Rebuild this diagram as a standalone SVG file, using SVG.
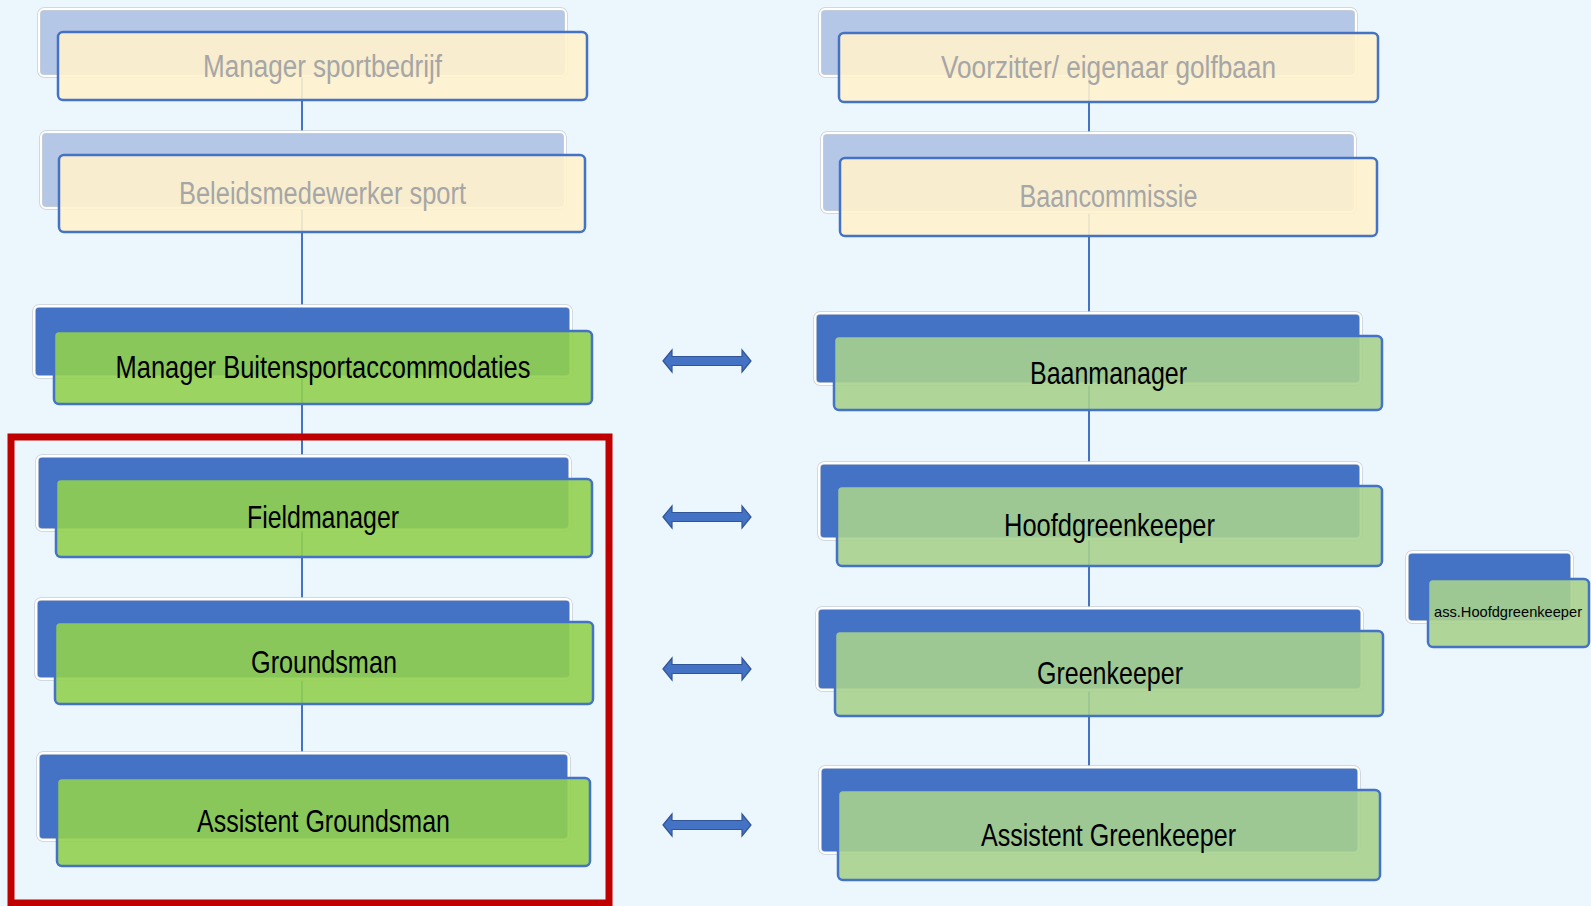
<svg xmlns="http://www.w3.org/2000/svg" width="1591" height="906" viewBox="0 0 1591 906">
<style>
.bgl{fill:#B4C7E7;stroke:#C9CED6;stroke-width:3.5}
.bgd{fill:#4472C4;stroke:#C9CED6;stroke-width:3.5}
.rim{fill:none;stroke:#FFFFFF;stroke-width:2}
.fy{fill:#FFF2CC;fill-opacity:0.9;stroke:#4472C4;stroke-width:2.5}
.fg{fill:#92D050;fill-opacity:0.9;stroke:#4472C4;stroke-width:2.5}
.fr{fill:#A9D18E;fill-opacity:0.9;stroke:#4472C4;stroke-width:2.5}
.tg{font-family:"Liberation Sans",Arial,sans-serif;font-size:31px;fill:#A6A6A6;text-anchor:middle}
.tb{font-family:"Liberation Sans",Arial,sans-serif;font-size:32px;fill:#000000;text-anchor:middle}
.ts{font-family:"Liberation Sans",Arial,sans-serif;font-size:15px;fill:#000000;text-anchor:middle}
.con{stroke:#4472C4;stroke-width:2;fill:none}
.arr{fill:#4472C4;stroke:#2F5597;stroke-width:1.2}
</style>
<defs>
<path id="dbl" d="M0,0 L9,-11 L9,-4.5 L79,-4.5 L79,-11 L88,0 L79,11 L79,4.5 L9,4.5 L9,11 Z"/>
</defs>
<rect x="0" y="0" width="1591" height="906" fill="#EBF6FD"/>
<g id="connectors">
<line class="con" x1="302" y1="70" x2="302" y2="132"/>
<line class="con" x1="302" y1="200" x2="302" y2="306"/>
<line class="con" x1="302" y1="372" x2="302" y2="456"/>
<line class="con" x1="302" y1="525" x2="302" y2="599"/>
<line class="con" x1="302" y1="675" x2="302" y2="753"/>
<line class="con" x1="1089" y1="70" x2="1089" y2="133"/>
<line class="con" x1="1089" y1="205" x2="1089" y2="313"/>
<line class="con" x1="1089" y1="380" x2="1089" y2="463"/>
<line class="con" x1="1089" y1="535" x2="1089" y2="608"/>
<line class="con" x1="1089" y1="685" x2="1089" y2="767"/>
<use href="#dbl" class="arr" x="663" y="361"/>
<use href="#dbl" class="arr" x="663" y="517"/>
<use href="#dbl" class="arr" x="663" y="669"/>
<use href="#dbl" class="arr" x="663" y="825"/>
</g>
<g id="n-manager-sportbedrijf">
<rect class="bgl" x="39" y="9" width="527" height="67" rx="5"/>
<rect class="rim" x="39" y="9" width="527" height="67" rx="5"/>
<rect class="fy" x="58" y="32" width="529" height="68" rx="5"/>
<text class="tg" x="322.5" y="77" textLength="239" lengthAdjust="spacingAndGlyphs">Manager sportbedrijf</text>
</g>
<g id="n-beleidsmedewerker">
<rect class="bgl" x="41" y="132" width="524" height="76" rx="5"/>
<rect class="rim" x="41" y="132" width="524" height="76" rx="5"/>
<rect class="fy" x="59" y="155" width="526" height="77" rx="5"/>
<text class="tg" x="322.5" y="204" textLength="287" lengthAdjust="spacingAndGlyphs">Beleidsmedewerker sport</text>
</g>
<g id="n-manager-buiten">
<rect class="bgd" x="34" y="306" width="537" height="71" rx="5"/>
<rect class="rim" x="34" y="306" width="537" height="71" rx="5"/>
<rect class="fg" x="54" y="331" width="538" height="73" rx="5"/>
<text class="tb" x="323" y="378" textLength="415" lengthAdjust="spacingAndGlyphs">Manager Buitensportaccommodaties</text>
</g>
<g id="n-fieldmanager">
<rect class="bgd" x="37" y="456" width="533" height="74" rx="5"/>
<rect class="rim" x="37" y="456" width="533" height="74" rx="5"/>
<rect class="fg" x="56" y="479" width="536" height="78" rx="5"/>
<text class="tb" x="323" y="528" textLength="152" lengthAdjust="spacingAndGlyphs">Fieldmanager</text>
</g>
<g id="n-groundsman">
<rect class="bgd" x="36" y="599" width="535" height="80" rx="5"/>
<rect class="rim" x="36" y="599" width="535" height="80" rx="5"/>
<rect class="fg" x="55" y="622" width="538" height="82" rx="5"/>
<text class="tb" x="324" y="673" textLength="146" lengthAdjust="spacingAndGlyphs">Groundsman</text>
</g>
<g id="n-assistent-groundsman">
<rect class="bgd" x="38" y="753" width="531" height="87" rx="5"/>
<rect class="rim" x="38" y="753" width="531" height="87" rx="5"/>
<rect class="fg" x="57" y="778" width="533" height="88" rx="5"/>
<text class="tb" x="323.5" y="832" textLength="253" lengthAdjust="spacingAndGlyphs">Assistent Groundsman</text>
</g>
<g id="n-voorzitter">
<rect class="bgl" x="820" y="9" width="536" height="67" rx="5"/>
<rect class="rim" x="820" y="9" width="536" height="67" rx="5"/>
<rect class="fy" x="839" y="33" width="539" height="69" rx="5"/>
<text class="tg" x="1108.5" y="78" textLength="335" lengthAdjust="spacingAndGlyphs">Voorzitter/ eigenaar golfbaan</text>
</g>
<g id="n-baancommissie">
<rect class="bgl" x="822" y="133" width="533" height="79" rx="5"/>
<rect class="rim" x="822" y="133" width="533" height="79" rx="5"/>
<rect class="fy" x="840" y="158" width="537" height="78" rx="5"/>
<text class="tg" x="1108.5" y="207" textLength="178" lengthAdjust="spacingAndGlyphs">Baancommissie</text>
</g>
<g id="n-baanmanager">
<rect class="bgd" x="815" y="313" width="546" height="71" rx="5"/>
<rect class="rim" x="815" y="313" width="546" height="71" rx="5"/>
<rect class="fr" x="834" y="336" width="548" height="74" rx="5"/>
<text class="tb" x="1108.5" y="384" textLength="157" lengthAdjust="spacingAndGlyphs">Baanmanager</text>
</g>
<g id="n-hoofdgreenkeeper">
<rect class="bgd" x="819" y="463" width="542" height="76" rx="5"/>
<rect class="rim" x="819" y="463" width="542" height="76" rx="5"/>
<rect class="fr" x="837" y="486" width="545" height="80" rx="5"/>
<text class="tb" x="1109.5" y="536" textLength="211" lengthAdjust="spacingAndGlyphs">Hoofdgreenkeeper</text>
</g>
<g id="n-greenkeeper">
<rect class="bgd" x="817" y="608" width="545" height="82" rx="5"/>
<rect class="rim" x="817" y="608" width="545" height="82" rx="5"/>
<rect class="fr" x="835" y="631" width="548" height="85" rx="5"/>
<text class="tb" x="1110" y="684" textLength="146" lengthAdjust="spacingAndGlyphs">Greenkeeper</text>
</g>
<g id="n-assistent-greenkeeper">
<rect class="bgd" x="820" y="767" width="539" height="86" rx="5"/>
<rect class="rim" x="820" y="767" width="539" height="86" rx="5"/>
<rect class="fr" x="838" y="790" width="542" height="90" rx="5"/>
<text class="tb" x="1108.5" y="846" textLength="255" lengthAdjust="spacingAndGlyphs">Assistent Greenkeeper</text>
</g>
<g id="n-ass-hoofdgreenkeeper">
<rect class="bgd" x="1407" y="552" width="165" height="70" rx="5"/>
<rect class="rim" x="1407" y="552" width="165" height="70" rx="5"/>
<rect class="fr" x="1428" y="579" width="161" height="68" rx="5"/>
<text class="ts" x="1508" y="617" textLength="148" lengthAdjust="spacingAndGlyphs">ass.Hoofdgreenkeeper</text>
</g>
<g id="highlight">
<rect x="11" y="437" width="598" height="466" fill="none" stroke="#C00000" stroke-width="7"/>
</g>
</svg>
